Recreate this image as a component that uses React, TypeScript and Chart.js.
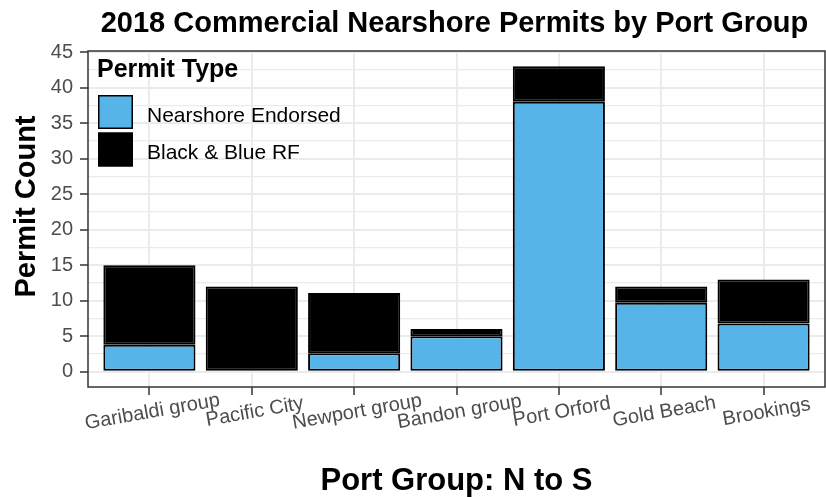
import React, { useEffect, useRef } from "react";
import { Chart, registerables } from "chart.js";

Chart.register(...registerables);

const categories = [
  "Garibaldi group",
  "Pacific City",
  "Newport group",
  "Bandon group",
  "Port Orford",
  "Gold Beach",
  "Brookings",
];
const nearshoreEndorsed = [3.8, 0, 2.6, 5, 38, 9.7, 6.8];
const blackBlueRF = [11.2, 12, 8.5, 1, 5, 2.3, 6.2];
const seriesLabels = ["Nearshore Endorsed", "Black & Blue RF"];
const seriesColors = ["#56B4E9", "#000000"];
const yTicks = [0, 2.5, 5, 7.5, 10, 12.5, 15, 17.5, 20, 22.5, 25, 27.5, 30, 32.5, 35, 37.5, 40, 42.5, 45];
const chartTitle = "2018 Commercial Nearshore Permits by Port Group";
const xTitle = "Port Group: N to S";
const yTitle = "Permit Count";
const legendTitle = "Permit Type";

const FONT = "'Liberation Sans', Arial, sans-serif";

const isMajor = (v: number) => Math.abs(v % 5) < 1e-9;

const decor = {
  id: "decor",
  afterDatasetsDraw(chart: any) {
    const { ctx, chartArea: a } = chart;
    ctx.save();
    ctx.strokeStyle = "#333333";
    ctx.lineWidth = 1.5;
    ctx.strokeRect(a.left, a.top, a.right - a.left, a.bottom - a.top);
    ctx.restore();
  },
  afterDraw(chart: any) {
    const { ctx, chartArea: a } = chart;
    const cx = (a.left + a.right) / 2;
    ctx.save();
    // main title
    ctx.fillStyle = "#000";
    ctx.textAlign = "center";
    ctx.textBaseline = "alphabetic";
    ctx.font = `bold 29px ${FONT}`;
    ctx.fillText(chartTitle, cx - 2, 32);
    // x title
    ctx.font = `bold 31px ${FONT}`;
    ctx.fillText(xTitle, cx, 490);
    // y title
    ctx.save();
    ctx.translate(35, 206.5);
    ctx.rotate(-Math.PI / 2);
    ctx.font = `bold 29px ${FONT}`;
    ctx.fillText(yTitle, 0, 0);
    ctx.restore();
    // x tick labels (rotated, centred)
    const xs = chart.scales.x;
    ctx.font = `20px ${FONT}`;
    ctx.fillStyle = "#4d4d4d";
    ctx.textBaseline = "middle";
    categories.forEach((c, i) => {
      const px = xs.getPixelForValue(i) + 3;
      ctx.save();
      ctx.translate(px, a.bottom + 25);
      ctx.rotate((-10 * Math.PI) / 180);
      ctx.fillText(c, 0, 0);
      ctx.restore();
    });
    // legend
    ctx.textAlign = "left";
    ctx.textBaseline = "alphabetic";
    ctx.fillStyle = "#000";
    ctx.font = `bold 25px ${FONT}`;
    ctx.fillText(legendTitle, a.left + 9, a.top + 26);
    chart.data.datasets.forEach((ds: any, i: number) => {
      const y = a.top + 44 + i * 37.5;
      const x = a.left + 10;
      ctx.fillStyle = ds.backgroundColor;
      ctx.fillRect(x, y, 35, 34);
      ctx.strokeStyle = "#000";
      ctx.lineWidth = 1.5;
      ctx.strokeRect(x + 0.75, y + 0.75, 33.5, 32.5);
      ctx.fillStyle = "#000";
      ctx.font = `21px ${FONT}`;
      ctx.fillText(ds.label, a.left + 59, y + 26.7);
    });
    ctx.restore();
  },
};

export default function App() {
  const ref = useRef<HTMLCanvasElement | null>(null);

  useEffect(() => {
    if (!ref.current) return;
    const datasets = [nearshoreEndorsed, blackBlueRF].map((vals, k) => ({
      label: seriesLabels[k],
      data: vals.map((v, i) => ({ x: i, y: v })),
      backgroundColor: seriesColors[k],
      borderColor: "#000000",
      borderWidth: 2,
      borderSkipped: false,
      categoryPercentage: 1,
      barPercentage: 0.9,
    }));
    const chart = new Chart(ref.current, {
      type: "bar",
      data: { datasets } as any,
      options: {
        responsive: false,
        animation: false,
        layout: { padding: { top: 51, right: 1, left: 0, bottom: 0 } },
        plugins: {
          legend: { display: false },
          title: { display: false },
          tooltip: { enabled: false },
        },
        scales: {
          x: {
            type: "linear",
            min: -0.6,
            max: 6.6,
            stacked: true,
            offset: false,
            afterBuildTicks: (s: any) => {
              s.ticks = categories.map((_, i) => ({ value: i }));
            },
            afterFit: (s: any) => {
              s.height = 110;
            },
            grid: {
              color: "#ebebeb",
              lineWidth: 2,
              drawTicks: true,
              tickLength: 8,
              tickColor: "#333333",
              tickWidth: 1.5,
              offset: false,
            },
            border: { display: false },
            ticks: { display: false },
          },
          y: {
            type: "linear",
            min: -2.15,
            max: 45.15,
            stacked: true,
            afterBuildTicks: (s: any) => {
              s.ticks = yTicks.map((v) => ({ value: v }));
            },
            afterFit: (s: any) => {
              s.width = 88;
            },
            grid: {
              color: "#ebebeb",
              lineWidth: (c: any) => (c.tick && isMajor(c.tick.value) ? 2 : 1.2),
              tickLength: 8,
              tickColor: (c: any) => (c.tick && isMajor(c.tick.value) ? "#333333" : "rgba(0,0,0,0)"),
              tickWidth: 1.5,
            },
            border: { display: false },
            ticks: {
              autoSkip: false,
              padding: 7,
              color: "#4d4d4d",
              font: { family: FONT, size: 20 },
              callback: (v: any) => (isMajor(Number(v)) ? String(v) : ""),
            },
          },
        },
      } as any,
      plugins: [decor],
    });
    return () => chart.destroy();
  }, []);

  return (
    <div style={{ position: "fixed", left: 0, top: 0, width: 826, height: 497, background: "#fff" }}>
      <canvas ref={ref} width={826} height={497} style={{ display: "block" }} />
    </div>
  );
}
